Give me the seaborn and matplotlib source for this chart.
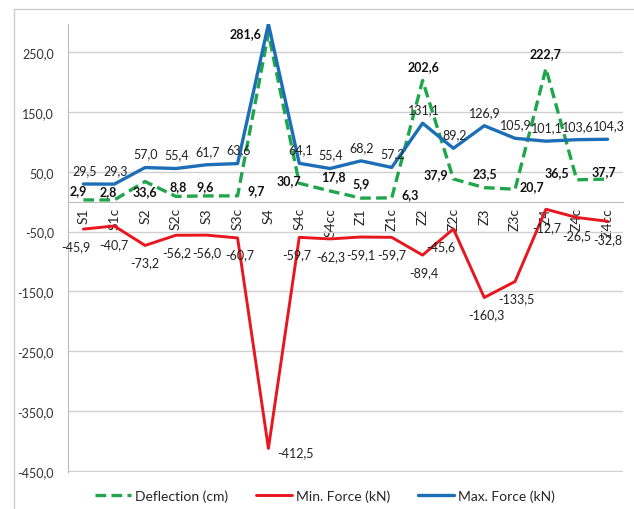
import numpy as np
import pandas as pd
import matplotlib
matplotlib.use('Agg')
import matplotlib.pyplot as plt
import seaborn as sns

# data
members = ['S1', 'S1c', 'S2', 'S2c', 'S3', 'S3c', 'S4', 'S4c', 'S4cc',
           'Z1', 'Z1c', 'Z2', 'Z2c', 'Z3', 'Z3c', 'Z4', 'Z4c', 'Z4cc']
deflection = [2.9, 2.8, 33.6, 8.8, 9.6, 9.7, 281.6, 30.7, 17.8,
              5.9, 6.3, 202.6, 37.9, 23.5, 20.7, 222.7, 36.5, 37.7]
min_force = [-45.9, -40.7, -73.2, -56.2, -56.0, -60.7, -412.5, -59.7, -62.3,
             -59.1, -59.7, -89.4, -45.6, -160.3, -133.5, -12.7, -26.5, -32.8]
max_force = [29.5, 29.3, 57.0, 55.4, 61.7, 63.6, 297.0, 64.1, 55.4,
             68.2, 57.2, 131.1, 89.2, 126.9, 105.9, 101.1, 103.6, 104.3]
max_labelled = [True] * 6 + [False] + [True] * 11

# label offsets (pixels) for the deflection labels
defl_off = [(-5, 10), (-6, 9), (0, -10), (2, 10), (-2, 10), (19, 6), (-23, 0), (-10, 3),
            (3, 15), (0, 15), (18, 4), (1, 14), (-18, 5), (1, 15), (17, 3), (0, 15), (-20, 8), (-4, 8)]
min_off = [(-8, -17), (0, -18), (0, -17), (1, -17), (0, -17), (2, -16), (27, -4), (-2, -17), (1, -17),
           (0, -17), (0, -17), (1, -17), (-13, -17), (2, -17), (1, -17), (1, -18), (0, -18), (0, -18)]

sns.set_style('white')
plt.rcParams['font.family'] = ['Lato', 'DejaVu Sans']

df = pd.DataFrame({'x': np.arange(len(members)), 'defl': deflection,
                   'minf': min_force, 'maxf': max_force})

fig = plt.figure(figsize=(6.34, 5.10), dpi=100)
ax = fig.add_axes([68 / 634, 1 - 473 / 510, 555 / 634, 448 / 510])

green = '#1FA64B'
red = '#E8161E'
blue = '#1C6FB6'

sns.lineplot(data=df, x='x', y='defl', ax=ax, color=green, linewidth=2.4,
             linestyle=(0, (3.2, 1.6)), sort=False, label='Deflection (cm)')
sns.lineplot(data=df, x='x', y='minf', ax=ax, color=red, linewidth=2.1,
             sort=False, label='Min. Force (kN)')
sns.lineplot(data=df, x='x', y='maxf', ax=ax, color=blue, linewidth=2.4,
             sort=False, label='Max. Force (kN)')


def fmt(v):
    return f'{v:.1f}'.replace('.', ',')


for i in range(len(members)):
    ax.annotate(fmt(deflection[i]), (i, deflection[i]), xytext=defl_off[i],
                textcoords='offset pixels', ha='center', va='center',
                fontsize=9, fontweight='bold', color='#111111')
    ax.annotate(fmt(min_force[i]), (i, min_force[i]), xytext=min_off[i],
                textcoords='offset pixels', ha='center', va='center',
                fontsize=9, color='#222222')
    if max_labelled[i]:
        ax.annotate(fmt(max_force[i]), (i, max_force[i]), xytext=(1, 14),
                    textcoords='offset pixels', ha='center', va='center',
                    fontsize=9, color='#222222')

ax.set_xlim(-0.5, len(members) - 0.5)
ax.set_ylim(-452, 297)
ax.set_yticks(np.arange(-450, 251, 100))
ax.set_yticklabels([fmt(v) for v in np.arange(-450, 251, 100)], fontsize=9, color='#333333')
ax.yaxis.grid(True, color='#D0D0D0', linewidth=1.0)
ax.set_axisbelow(True)

ax.set_xticks(np.arange(len(members)))
ax.set_xticklabels(members, fontsize=7.5, fontweight='bold', color='#222222')
ax.set_xticks(np.arange(-0.5, len(members)), minor=True)
ax.tick_params(axis='x', which='major', length=0, pad=4, labelrotation=90)
ax.tick_params(axis='x', which='minor', length=5, color='#BBBBBB', direction='out')
ax.tick_params(axis='y', length=0, pad=10)

ax.spines['bottom'].set_position(('data', 0))
ax.spines['bottom'].set_color('#BBBBBB')
ax.spines['left'].set_color('#BBBBBB')
ax.spines['top'].set_visible(False)
ax.spines['right'].set_visible(False)
ax.set_xlabel('')
ax.set_ylabel('')

leg = ax.legend(loc='center', bbox_to_anchor=(325 / 634, 1 - 497 / 510),
                bbox_transform=fig.transFigure, ncol=3, frameon=False,
                fontsize=10, handlelength=2.6, columnspacing=2.0, handletextpad=0.3)

fig.patches.append(plt.Rectangle((14 / 634, -0.01), 1.0, 1 - 10 / 510 + 0.01,
                                 transform=fig.transFigure, fill=False,
                                 edgecolor='#CCCCCC', linewidth=1.0))

plt.savefig('out.png', dpi=100)
